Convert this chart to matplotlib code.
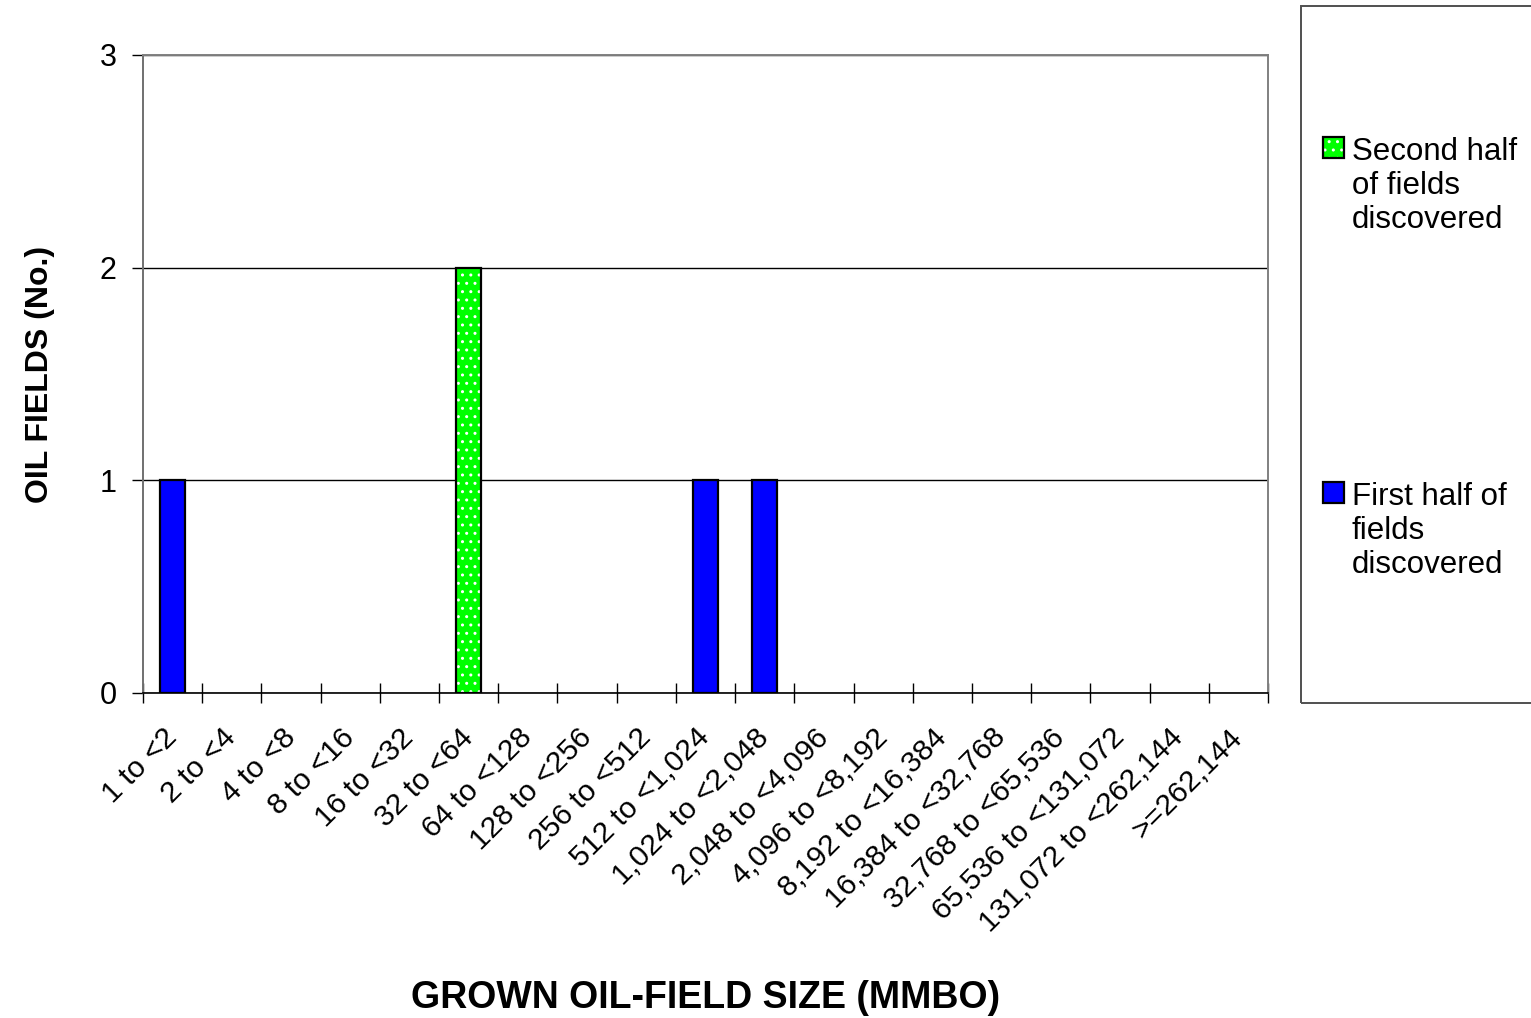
import numpy as np
import matplotlib
matplotlib.use("Agg")
import matplotlib.pyplot as plt
from matplotlib.patches import Rectangle

plt.rcParams['font.family'] = ['Liberation Sans', 'DejaVu Sans']

categories = ['1 to <2', '2 to <4', '4 to <8', '8 to <16', '16 to <32', '32 to <64',
              '64 to <128', '128 to <256', '256 to <512', '512 to <1,024',
              '1,024 to <2,048', '2,048 to <4,096', '4,096 to <8,192',
              '8,192 to <16,384', '16,384 to <32,768', '32,768 to <65,536',
              '65,536 to <131,072', '131,072 to <262,144', '>=262,144']
first_half = [1, 0, 0, 0, 0, 0, 0, 0, 0, 1, 1, 0, 0, 0, 0, 0, 0, 0, 0]
second_half = [0, 0, 0, 0, 0, 2, 0, 0, 0, 0, 0, 0, 0, 0, 0, 0, 0, 0, 0]
yticks = [0, 1, 2, 3]
legend_second = ['Second half', 'of fields', 'discovered']
legend_first = ['First half of', 'fields', 'discovered']

W, H = 1531, 1018
fig = plt.figure(figsize=(W / 100, H / 100), dpi=100)
L, R, T, B = 143, 1268, 55, 693
ax = fig.add_axes([L / W, 1 - B / H, (R - L) / W, (B - T) / H])

x = np.arange(len(categories))
f = np.array(first_half, dtype=float)
s = np.array(second_half, dtype=float)
bw = 0.42

m1 = f > 0
ax.bar(x[m1], f[m1], width=bw, color='#0000FF', edgecolor='black', linewidth=1.6, zorder=3)
m2 = s > 0
ax.bar(x[m2], s[m2], bottom=f[m2], width=bw, color='#00FF00', edgecolor='white',
       hatch='..', linewidth=0, zorder=3)
ax.bar(x[m2], s[m2], bottom=f[m2], width=bw, fill=False, edgecolor='black',
       linewidth=1.6, zorder=4)

ax.set_xlim(-0.5, len(categories) - 0.5)
ax.set_ylim(0, 3)
ax.set_yticks(yticks)
ax.set_yticklabels([str(v) for v in yticks])
ax.yaxis.grid(True, color='black', linewidth=1.0)
ax.set_axisbelow(True)

ax.set_xticks(np.arange(-0.5, len(categories), 1))
ax.set_xticklabels([])
ax.set_xticks(x, labels=categories, minor=True, rotation=45, ha='right', va='center',
              rotation_mode='anchor')
ax.tick_params(axis='x', which='major', direction='inout', length=14.4, width=1.0, color='black')
ax.tick_params(axis='x', which='minor', length=0, pad=29, labelsize=21.5)
ax.tick_params(axis='y', direction='out', length=8, width=1.0, pad=11, labelsize=22, color='black')

for side in ['top', 'right']:
    ax.spines[side].set_color('#808080')
    ax.spines[side].set_linewidth(1.4)
ax.spines['left'].set_color('#707070')
ax.spines['left'].set_linewidth(1.4)
ax.spines['bottom'].set_color('black')
ax.spines['bottom'].set_linewidth(1.2)

ax.set_xlabel('GROWN OIL-FIELD SIZE (MMBO)', fontsize=27, fontweight='bold', va='center')
ax.xaxis.set_label_coords(0.5, -(998 - B) / (B - T))
ax.set_ylabel('OIL FIELDS (No.)', fontsize=23, fontweight='bold', va='center')
ax.yaxis.set_label_coords((40 - L) / (R - L), 0.5)

# legend box
def fx(px):
    return px / W

def fy(py):
    return 1 - py / H

fig.add_artist(Rectangle((fx(1301), fy(703)), fx(1531 + 20) - fx(1301), fy(6) - fy(703),
                         transform=fig.transFigure, fill=False, edgecolor='#505050',
                         linewidth=1.4, clip_on=False))

def legend_entry(top_px, lines, face, hatched):
    sq = 21
    fig.add_artist(Rectangle((fx(1323), fy(top_px + sq)), fx(1323 + sq) - fx(1323),
                             fy(top_px) - fy(top_px + sq), transform=fig.transFigure,
                             facecolor=face, edgecolor='white' if hatched else 'black',
                             hatch='..' if hatched else None, linewidth=0 if hatched else 1.6))
    if hatched:
        fig.add_artist(Rectangle((fx(1323), fy(top_px + sq)), fx(1323 + sq) - fx(1323),
                                 fy(top_px) - fy(top_px + sq), transform=fig.transFigure,
                                 fill=False, edgecolor='black', linewidth=1.6))
    base = top_px + 23
    for i, ln in enumerate(lines):
        fig.text(fx(1352), fy(base + 34 * i), ln, fontsize=22.5, ha='left', va='baseline')

legend_entry(137, legend_second, '#00FF00', True)
legend_entry(482, legend_first, '#0000FF', False)

fig.savefig('out.png', dpi=100, facecolor='white')
